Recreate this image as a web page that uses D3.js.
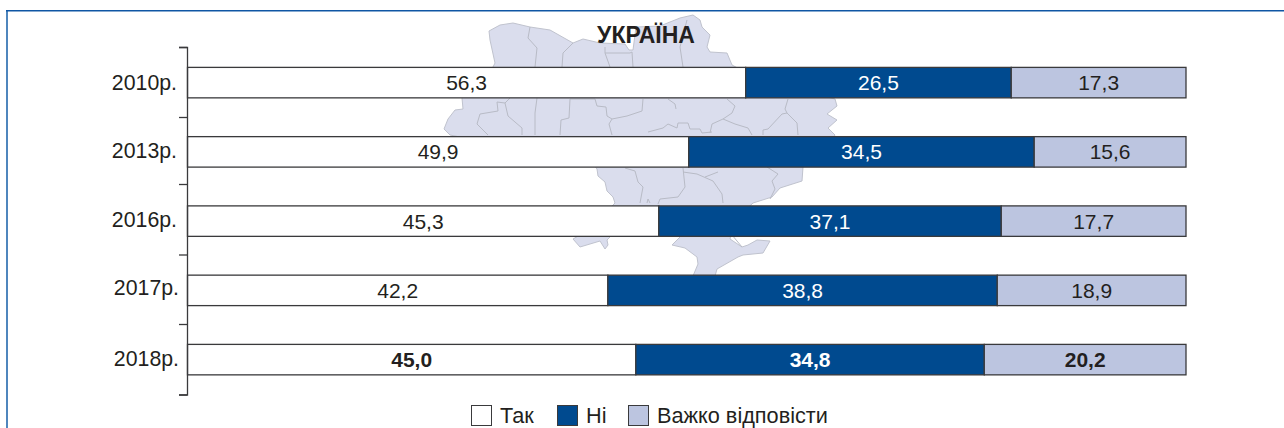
<!DOCTYPE html>
<html>
<head>
<meta charset="utf-8">
<script src="https://cdnjs.cloudflare.com/ajax/libs/d3/7.8.5/d3.min.js"></script>
<style>
  html, body { margin: 0; padding: 0; background: #fff; overflow: hidden; }
  text { font-family: "Liberation Sans", sans-serif; fill: #231f20; }
</style>
</head>
<body>
<div id="chart"></div>
<script>
var years = ["2010р.", "2013р.", "2016р.", "2017р.", "2018р."];
var seriesNames = ["Так", "Ні", "Важко відповісти"];
var seriesColors = ["#ffffff", "#004a8f", "#bcc5e0"];

// numbers printed on the bars
var yesLabels = ["56,3", "49,9", "45,3", "42,2", "45,0"];
var noLabels = ["26,5", "34,5", "37,1", "38,8", "34,8"];
var hardLabels = ["17,3", "15,6", "17,7", "18,9", "20,2"];

// bar lengths as measured in the picture, they differ a bit from the printed numbers
var yesValues = [55.9, 50.2, 47.2, 42.1, 44.9];
var noValues = [26.6, 34.6, 34.3, 39.0, 34.9];
var hardValues = [17.5, 15.2, 18.5, 18.9, 20.2];

// background map of Ukraine, page pixels (decoration only, traced by eye)
var mapMain = [[489,31],[500,25],[513,23],[530,27],[550,30],[573,43],[583,39],[600,43],[625,44],[629,50],[633,50],[636,27],[660,26],[680,18],[693,15],[700,20],[702,27],[710,35],[707,47],[710,52],[727,53],[732,65],[760,80],[800,90],[835,99],[837,106],[827,114],[837,120],[828,128],[835,135],[825,150],[803,167],[802,181],[780,188],[772,197],[753,203],[740,215],[700,228],[612,230],[612,235],[607,240],[608,245],[605,249],[600,241],[590,244],[580,247],[573,239],[580,235],[590,228],[615,203],[613,197],[607,191],[605,182],[598,176],[597,169],[590,160],[500,145],[450,135],[444,129],[448,119],[455,110],[463,109],[462,98],[470,85],[493,67],[495,63],[490,40]];
var mapCrimea = [[682,230],[682,235],[672,245],[685,248],[697,257],[698,264],[693,276],[715,276],[717,269],[738,257],[743,255],[763,253],[770,241],[757,240],[748,245],[742,247],[730,239],[732,230]];
var mapBorders = [
  [[530,27],[528,38],[537,48],[535,67]],
  [[573,43],[563,53],[562,67]],
  [[605,47],[605,53],[610,67]],
  [[605,53],[630,53],[632,52],[633,67]],
  [[687,20],[680,47],[683,67]],
  [[510,98],[505,103],[508,116],[522,128],[522,135]],
  [[505,103],[497,102],[498,111],[480,114],[477,124],[488,135]],
  [[537,98],[535,113],[535,135]],
  [[570,99],[569,118],[561,120],[560,135]],
  [[570,99],[595,99],[597,106],[606,107],[607,116],[612,119],[609,124],[612,135]],
  [[643,99],[642,111],[627,116],[612,119]],
  [[668,99],[675,104],[676,109]],
  [[727,99],[735,106],[732,113],[723,119],[735,124],[748,128],[752,135]],
  [[723,119],[712,124],[710,133]],
  [[788,99],[785,109],[787,113],[782,114],[768,129],[763,130],[763,135]],
  [[787,113],[797,123],[798,135]],
  [[648,132],[663,128],[668,124],[677,128],[678,123],[688,123],[690,129],[700,129],[702,133],[712,132]],
  [[625,168],[635,171],[638,182],[643,187],[640,203]],
  [[683,168],[685,187],[678,197],[660,199],[658,204]],
  [[647,203],[648,199],[650,203]],
  [[683,172],[697,174],[713,181],[722,194],[723,203]],
  [[705,177],[718,172]],
  [[767,167],[778,174],[772,181],[775,189],[770,199]],
  [[732,235],[742,247]]
];

// fine placement
var tickPositions = [47, 117, 184, 254.5, 324, 394.5];
var yearNudgeX = [0, 0, 0, 2, 2];
var yearNudgeY = [0.4, -0.9, -1.1, -2.4, -0.6];
var legendX = [471, 557, 628];

var width = 1284, height = 428;
var margin = {left: 187.5, right: 1186, top: 48, bottom: 394.25};

var svg = d3.select("#chart")
  .append("svg")
    .attr("width", width)
    .attr("height", height)
    .style("display", "block");

// blue frame, open on the right and at the bottom
svg.append("line")
  .attr("x1", 7).attr("x2", 7)
  .attr("y1", 10).attr("y2", height)
  .attr("stroke", "#4f86bd")
  .attr("stroke-width", 2);
svg.append("line")
  .attr("x1", 6).attr("x2", width)
  .attr("y1", 10.75).attr("y2", 10.75)
  .attr("stroke", "#0f56a4")
  .attr("stroke-width", 1.5);

// map
var mapLine = d3.line();
var map = svg.append("g");
map.selectAll("path.land")
  .data([mapMain, mapCrimea])
  .enter()
  .append("path")
    .attr("class", "land")
    .attr("d", function(d) { return mapLine(d) + "Z"; })
    .attr("fill", "#dadded")
    .attr("stroke", "#c0c3ce")
    .attr("stroke-width", 1);
map.selectAll("path.border")
  .data(mapBorders)
  .enter()
  .append("path")
    .attr("class", "border")
    .attr("d", mapLine)
    .attr("fill", "none")
    .attr("stroke", "#b8bbc6")
    .attr("stroke-width", 1);

svg.append("text")
  .attr("x", 646)
  .attr("y", 43)
  .attr("text-anchor", "middle")
  .attr("font-size", "23px")
  .attr("font-weight", "bold")
  .text("УКРАЇНА");

// scales
var x = d3.scaleLinear()
  .domain([0, 100])
  .range([margin.left, margin.right]);

var y = d3.scaleBand()
  .domain(years)
  .range([margin.top, margin.bottom])
  .paddingInner(0.56)
  .paddingOuter(0.28);

// stack the three series
var rows = years.map(function(d, i) {
  return {year: d, yes: yesValues[i], no: noValues[i], hard: hardValues[i]};
});
var keys = ["yes", "no", "hard"];
var labels = {yes: yesLabels, no: noLabels, hard: hardLabels};
var stacked = d3.stack().keys(keys)(rows);

var layers = svg.selectAll("g.layer")
  .data(stacked)
  .enter()
  .append("g")
    .attr("class", "layer");

layers.selectAll("rect")
  .data(function(d) { return d; })
  .enter()
  .append("rect")
    .attr("x", function(d) { return x(d[0]); })
    .attr("y", function(d) { return y(d.data.year); })
    .attr("width", function(d) { return x(d[1]) - x(d[0]); })
    .attr("height", y.bandwidth())
    .attr("fill", function(d, i, nodes) {
      return seriesColors[keys.indexOf(d3.select(nodes[i].parentNode).datum().key)];
    })
    .attr("stroke", "#3a3a3c")
    .attr("stroke-width", 1.3);

// value labels, last year is bold
layers.selectAll("text")
  .data(function(d) {
    return d.map(function(p, i) { return {p: p, i: i, key: d.key}; });
  })
  .enter()
  .append("text")
    .attr("x", function(d) { return (x(d.p[0]) + x(d.p[1])) / 2; })
    .attr("y", function(d) { return y(d.p.data.year) + y.bandwidth() / 2 + 7.5; })
    .attr("text-anchor", "middle")
    .attr("font-size", "21px")
    .attr("font-weight", function(d) { return d.i == 4 ? "bold" : "normal"; })
    .style("fill", function(d) { return d.key == "no" ? "#ffffff" : "#231f20"; })
    .text(function(d) { return labels[d.key][d.i]; });

// axis, ticks fall between the bars
var yTicks = d3.scaleLinear()
  .domain(d3.range(tickPositions.length))
  .range(tickPositions);

var axisG = svg.append("g")
  .attr("transform", "translate(187,0)")
  .call(d3.axisLeft(yTicks).tickValues(d3.range(tickPositions.length)).tickSize(8).tickSizeOuter(8).tickFormat(""));
axisG.selectAll("path, line").attr("stroke", "#3a3a3c").attr("stroke-width", 1.3);

var yearAxis = svg.append("g")
  .attr("transform", "translate(177,0)")
  .call(d3.axisLeft(y).tickSize(0).tickPadding(0));
yearAxis.select(".domain").remove();
yearAxis.selectAll("text")
  .attr("font-size", "21.3px")
  .attr("font-family", "Liberation Sans, sans-serif")
  .style("fill", "#231f20")
  .attr("dy", "7px")
  .attr("dx", function(d, i) { return yearNudgeX[i]; })
  .attr("transform", function(d, i) { return "translate(0," + yearNudgeY[i] + ")"; });

// legend
var legend = svg.selectAll("g.legend")
  .data(seriesNames)
  .enter()
  .append("g")
    .attr("class", "legend")
    .attr("transform", function(d, i) { return "translate(" + legendX[i] + ",405)"; });

legend.append("rect")
  .attr("x", 0.5)
  .attr("y", 0.5)
  .attr("width", 20)
  .attr("height", 20)
  .attr("fill", function(d, i) { return seriesColors[i]; })
  .attr("stroke", "#3a3a3c")
  .attr("stroke-width", 1);

legend.append("text")
  .attr("x", 29)
  .attr("y", 17.5)
  .attr("font-size", "21.7px")
  .text(function(d) { return d; });
</script>
</body>
</html>
